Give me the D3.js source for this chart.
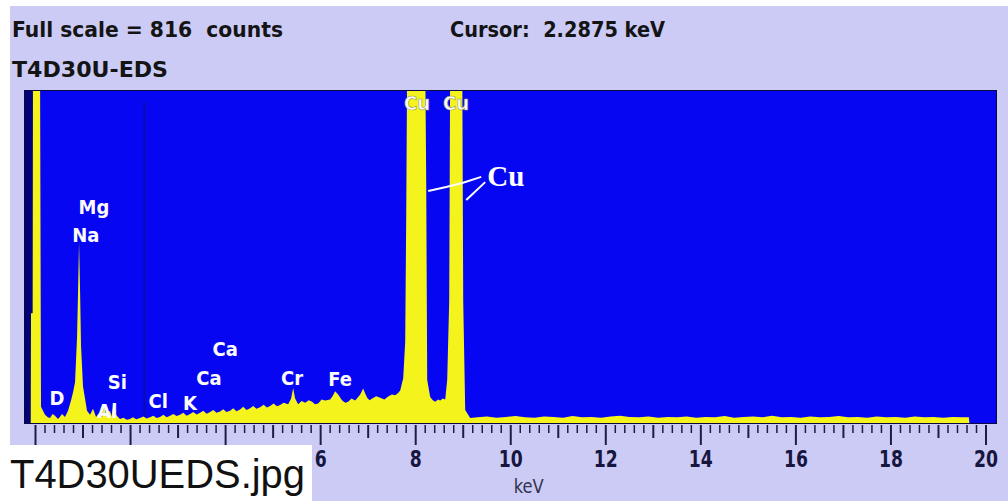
<!DOCTYPE html>
<html>
<head>
<meta charset="utf-8">
<script src="https://cdn.jsdelivr.net/npm/d3@7"></script>
<style>
  html, body { margin: 0; padding: 0; background: #fff; }
  svg text { white-space: pre; }
</style>
</head>
<body>
<div id="container"></div>
<script>
// spectrum (keV, counts)
const energyKeV = [
  -0.10, -0.095, -0.06, -0.053, 0.095, 0.116, 0.2, 0.26, 0.305, 0.36,
  0.41, 0.474, 0.52, 0.558, 0.621, 0.684, 0.747, 0.789, 0.832, 0.874,
  0.895, 0.916, 0.937, 0.958, 1.0, 1.042, 1.084, 1.147, 1.211, 1.274,
  1.32, 1.358, 1.40, 1.442, 1.484, 1.53, 1.568, 1.60, 1.632, 1.695,
  1.74, 1.779, 1.85, 1.92, 1.989, 2.05, 2.12, 2.2, 2.27, 2.34,
  2.411, 2.48, 2.55, 2.621, 2.69, 2.76, 2.832, 2.9, 2.97, 3.042,
  3.11, 3.18, 3.253, 3.32, 3.39, 3.463, 3.53, 3.60, 3.674, 3.74,
  3.81, 3.884, 3.95, 4.02, 4.095, 4.16, 4.23, 4.305, 4.37, 4.44,
  4.516, 4.58, 4.65, 4.726, 4.80, 4.87, 4.937, 5.01, 5.08, 5.147,
  5.22, 5.316, 5.379, 5.421, 5.463, 5.526, 5.60, 5.674, 5.75, 5.821,
  5.88, 5.947, 6.02, 6.095, 6.2, 6.25, 6.305, 6.368, 6.453, 6.52,
  6.579, 6.65, 6.726, 6.79, 6.832, 6.895, 6.94, 6.979, 7.03, 7.084,
  7.17, 7.253, 7.34, 7.421, 7.50, 7.568, 7.63, 7.674, 7.737, 7.779,
  7.80, 7.821, 8.2, 8.221, 8.242, 8.305, 8.36, 8.411, 8.47, 8.516,
  8.57, 8.621, 8.663, 8.705, 8.726, 8.979, 9.0, 9.042, 9.147,
  9.3, 9.5, 9.7, 9.9, 10.1, 10.3, 10.5, 10.7, 10.9, 11.1,
  11.3, 11.5, 11.7, 11.9, 12.1, 12.3, 12.5, 12.7, 12.9, 13.1,
  13.3, 13.5, 13.7, 13.9, 14.1, 14.3, 14.5, 14.7, 14.9, 15.1,
  15.3, 15.5, 15.7, 15.9, 16.1, 16.3, 16.5, 16.7, 16.9, 17.1,
  17.3, 17.5, 17.7, 17.9, 18.1, 18.3, 18.5, 18.7, 18.9, 19.1,
  19.3, 19.5, 19.64, 19.65
];
const counts = [
  0, 270, 270, 900, 900, 40, 20, 14, 12, 22,
  18, 10, 16, 22, 15, 30, 55, 75, 100, 210,
  320, 445, 330, 190, 90, 60, 30, 20, 35, 15,
  22, 25, 14, 45, 20, 26, 30, 16, 45, 20,
  14, 10, 13, 8, 10, 14, 9, 12, 16, 11,
  14, 18, 12, 15, 20, 14, 18, 22, 17, 20,
  25, 18, 22, 27, 21, 25, 30, 23, 27, 32,
  25, 28, 34, 27, 30, 36, 29, 33, 40, 32,
  36, 42, 35, 39, 45, 38, 42, 48, 41, 44,
  50, 46, 60, 86, 60, 46, 54, 50, 56, 52,
  46, 48, 58, 55, 58, 66, 78, 70, 55, 50,
  52, 60, 55, 64, 70, 85, 72, 62, 56, 60,
  66, 62, 58, 65, 70, 68, 74, 80, 110, 200,
  500, 900, 900, 600, 106, 64, 56, 52, 58, 55,
  60, 58, 106, 300, 900, 900, 300, 32, 12,
  14, 16, 13, 15, 17, 14, 13, 16, 15, 13,
  17, 14, 15, 13, 16, 18, 15, 14, 16, 13,
  15, 14, 16, 13, 15, 14, 17, 13, 15, 16,
  14, 18, 14, 15, 13, 16, 14, 15, 17, 14,
  15, 13, 16, 14, 15, 13, 16, 14, 15, 13,
  15, 14, 14, 0
];

// peak labels (anchor energy, label baseline in counts)
const peakNames = ['D', 'Na', 'Mg', 'Al', 'Si', 'Cl', 'K', 'Ca', 'Ca', 'Cr', 'Fe', 'Cu', 'Cu'];
const peakKeV = [0.45, 1.06, 1.23, 1.51, 1.72, 2.58, 3.25, 3.65, 3.99, 5.40, 6.41, 8.03, 8.85];
const peakLabelCounts = [44, 445, 514, 12, 84, 37, 32, 93, 165, 93, 91, 769, 769];

// hand-drawn Cu callout
const calloutKeV = [8.263, 8.642, 8.979, 9.379];
const calloutCounts = [570, 580, 590, 605];
const callout2KeV = [9.063, 9.463];
const callout2Counts = [548, 592];

// 0, 2 and 4 sit under the file-name box in the picture
const tickLabels = [6, 8, 10, 12, 14, 16, 18, 20];
const fullScale = 816;
const cursorKeV = 2.2875;

const uiFont = "'Liberation Sans Narrow', 'DejaVu Sans Condensed', 'Arial Narrow', sans-serif";

function draw() {
  const width = 1008;
  const height = 501;

  const x = d3.scaleLinear().domain([0, 20]).range([35.5, 986]);
  const y = d3.scaleLinear().domain([0, fullScale]).range([423, 91]);

  const plot = { x0: x(-0.24), x1: x(20.23), y0: 90, y1: 424 };

  const svg = d3
    .select('#container')
    .append('svg')
    .attr('width', width)
    .attr('height', height);

  svg.append('rect')
    .attr('x', 10).attr('y', 6)
    .attr('width', width - 10).attr('height', height - 6)
    .attr('fill', '#cbcbf6');

  // header
  const head = svg.append('text')
    .attr('x', 12).attr('y', 37)
    .attr('font-family', uiFont).attr('font-size', 22)
    .attr('font-weight', 'bold').attr('fill', '#141414')
    .attr('textLength', 271).attr('lengthAdjust', 'spacingAndGlyphs');
  head.append('tspan').text('Full scale = ');
  head.append('tspan').attr('font-weight', 900).text(String(fullScale));
  head.append('tspan').text('  counts');

  svg.append('text')
    .attr('x', 450).attr('y', 37)
    .attr('font-family', uiFont).attr('font-size', 22)
    .attr('font-weight', 'bold').attr('fill', '#141414')
    .attr('textLength', 215).attr('lengthAdjust', 'spacingAndGlyphs')
    .text(`Cursor:  ${cursorKeV} keV`);

  svg.append('text')
    .attr('x', 12).attr('y', 77)
    .attr('font-family', uiFont).attr('font-size', 22)
    .attr('font-weight', 'bold').attr('fill', '#141414')
    .attr('textLength', 156).attr('lengthAdjust', 'spacingAndGlyphs')
    .text('T4D30U-EDS');

  // plot area
  svg.append('clipPath').attr('id', 'clip')
    .append('rect')
    .attr('x', plot.x0).attr('y', plot.y0)
    .attr('width', plot.x1 - plot.x0).attr('height', plot.y1 - plot.y0);

  svg.append('rect')
    .attr('x', plot.x0).attr('y', plot.y0)
    .attr('width', plot.x1 - plot.x0).attr('height', plot.y1 - plot.y0)
    .attr('fill', '#0606f2');

  const g = svg.append('g').attr('clip-path', 'url(#clip)');

  g.append('rect')
    .attr('x', plot.x0).attr('y', plot.y0)
    .attr('width', x(-0.05) - plot.x0).attr('height', plot.y1 - plot.y0)
    .attr('fill', '#02027a');

  g.append('line')
    .attr('x1', x(cursorKeV)).attr('x2', x(cursorKeV))
    .attr('y1', y(790)).attr('y2', y(0))
    .attr('stroke', '#10107a').attr('stroke-width', 1.2);

  const spectrum = energyKeV.map((e, i) => ({ e, c: counts[i] }));
  const area = d3.area()
    .x(d => x(d.e))
    .y0(y(0))
    .y1(d => y(d.c));

  g.append('path')
    .datum(spectrum)
    .attr('d', area)
    .attr('fill', '#f4f41c');

  g.append('rect')
    .attr('x', plot.x0).attr('y', plot.y0)
    .attr('width', plot.x1 - plot.x0).attr('height', plot.y1 - plot.y0)
    .attr('fill', 'none').attr('stroke', '#0a0a40').attr('stroke-width', 2);

  // peak labels
  svg.selectAll('.peak')
    .data(peakNames)
    .enter()
    .append('text')
    .attr('class', 'peak')
    .attr('x', (d, i) => x(peakKeV[i]))
    .attr('y', (d, i) => y(peakLabelCounts[i]))
    .attr('text-anchor', 'middle')
    .attr('font-family', uiFont).attr('font-size', 20)
    .attr('font-weight', 'bold')
    .attr('fill', '#fafaff')
    .attr('stroke', (d, i) => (i > 10 ? '#9a9a50' : 'none'))
    .attr('stroke-width', 0.6)
    .text(d => d);

  // Cu callout
  const line = d3.line().x(d => x(d[0])).y(d => y(d[1]));
  svg.append('path')
    .attr('d', line(calloutKeV.map((e, i) => [e, calloutCounts[i]])))
    .attr('fill', 'none').attr('stroke', '#fff').attr('stroke-width', 2);
  svg.append('path')
    .attr('d', line(callout2KeV.map((e, i) => [e, callout2Counts[i]])))
    .attr('fill', 'none').attr('stroke', '#fff').attr('stroke-width', 2);
  svg.append('text')
    .attr('x', x(9.505)).attr('y', y(583))
    .attr('font-family', "'Liberation Serif', 'DejaVu Serif', serif")
    .attr('font-size', 29).attr('font-weight', 'bold')
    .attr('fill', '#fff')
    .text('Cu');

  // axis: 0.2 keV minor, 1 keV medium, 2 keV major
  const ticks = d3.range(0, 101).map(i => i / 5);
  svg.selectAll('.tick')
    .data(ticks)
    .enter()
    .append('line')
    .attr('class', 'tick')
    .attr('x1', d => x(d)).attr('x2', d => x(d))
    .attr('y1', 425)
    .attr('y2', (d, i) => (i % 10 === 0 ? 445 : i % 5 === 0 ? 438 : 433))
    .attr('stroke', '#1c1c4a')
    .attr('stroke-width', (d, i) => (i % 5 === 0 ? 2 : 1.5));

  svg.selectAll('.tlabel')
    .data(tickLabels)
    .enter()
    .append('text')
    .attr('class', 'tlabel')
    .attr('x', d => x(d))
    .attr('y', 467)
    .attr('text-anchor', 'middle')
    .attr('font-family', uiFont).attr('font-size', 23)
    .attr('font-weight', 'bold').attr('fill', '#16163e')
    .attr('textLength', d => String(d).length * 12)
    .attr('lengthAdjust', 'spacingAndGlyphs')
    .text(d => d);

  svg.append('text')
    .attr('x', x(10) + 3).attr('y', 493)
    .attr('font-family', uiFont).attr('font-size', 20)
    .attr('fill', '#34344e')
    .attr('textLength', 30).attr('lengthAdjust', 'spacingAndGlyphs')
    .text('keV');

  // file name box
  svg.append('rect')
    .attr('x', 0).attr('y', 445)
    .attr('width', 312).attr('height', height - 445)
    .attr('fill', '#fff');
  svg.append('text')
    .attr('x', 10).attr('y', 488)
    .attr('font-family', "'Liberation Sans', Arial, sans-serif")
    .attr('font-size', 40).attr('fill', '#111')
    .attr('textLength', 295).attr('lengthAdjust', 'spacingAndGlyphs')
    .text('T4D30UEDS.jpg');
}

document.addEventListener('DOMContentLoaded', () => {
  draw();
});
</script>
</body>
</html>
